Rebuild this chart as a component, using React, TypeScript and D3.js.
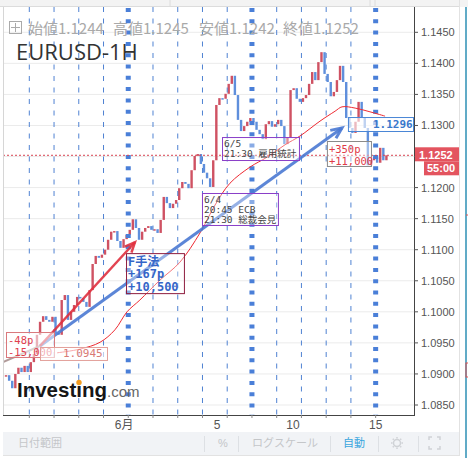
import React from 'react';
import * as d3 from 'd3';

// ---- data ----
const closes: number[] = [
  1.0898, 1.0889, 1.0877, 1.0900, 1.0910, 1.0903, 1.0913, 1.0903, 1.0919, 1.0932,
  1.0963, 1.0984, 1.0993, 1.0987, 1.0984, 1.0992, 1.0966, 1.0963, 1.1019, 1.1027,
  1.0987, 1.1000, 1.1011, 1.1024, 1.1022, 1.1016, 1.1008, 1.1035, 1.1077, 1.1090,
  1.1087, 1.1092, 1.1100, 1.1116, 1.1129, 1.1130, 1.1114, 1.1103, 1.1117, 1.1124,
  1.1132, 1.1149, 1.1135, 1.1116, 1.1129, 1.1135, 1.1138, 1.1132, 1.1133, 1.1127,
  1.1148, 1.1185, 1.1175, 1.1167, 1.1174, 1.1180, 1.1199, 1.1209, 1.1206, 1.1199,
  1.1228, 1.1251, 1.1254, 1.1238, 1.1224, 1.1215, 1.1201, 1.1244, 1.1333, 1.1344,
  1.1343, 1.1351, 1.1367, 1.1380, 1.1349, 1.1309, 1.1291, 1.1299, 1.1306, 1.1312,
  1.1306, 1.1293, 1.1286, 1.1278, 1.1302, 1.1307, 1.1298, 1.1302, 1.1309, 1.1299,
  1.1270, 1.1281, 1.1357, 1.1360, 1.1343, 1.1338, 1.1344, 1.1349, 1.1367, 1.1386,
  1.1373, 1.1402, 1.1418, 1.1383, 1.1370, 1.1347, 1.1354, 1.1373, 1.1396, 1.1370,
  1.1312, 1.1296, 1.1288, 1.1306, 1.1338, 1.1312, 1.1296, 1.1236, 1.1244, 1.1249,
  1.1240, 1.1264, 1.1244, 1.1252,
];
const BAR_START_DAY = -0.94;
const BARS_PER_DAY = 8;

const priceTicks = [1.085, 1.09, 1.095, 1.1, 1.105, 1.11, 1.115, 1.12, 1.125, 1.13, 1.135, 1.14, 1.145];
const hiddenTick = 1.125; // covered by the last-price label
const dayLines = [0, 1, 2, 3, 5, 6, 7, 8, 10, 11, 12, 13];
const weekLines = [4, 9, 14];
const dateLabels = ['6月', '5', '10', '15'];
const dateLabelDays = [3.83, 7.59, 10.66, 14.0];

const maDays = [1.12, 2.05, 2.86, 3.46, 3.95, 4.47, 5.28, 6.09, 6.9, 7.51, 8.11, 8.92, 9.61, 10.34, 10.94, 11.75, 12.36, 12.64, 13.17, 13.77, 14.38];
const maPrices = [1.0934, 1.094, 1.0951, 1.0971, 1.1, 1.1019, 1.1051, 1.108, 1.1127, 1.1172, 1.1207, 1.1233, 1.1249, 1.1269, 1.1283, 1.1307, 1.1323, 1.133, 1.1328, 1.1322, 1.1315];

const grayLine: [number, number][] = [[-1.06, 1.0919], [0.43, 1.0945]];
const redArrow: [number, number][] = [[0.43, 1.0945], [4.27, 1.1112]];
const blueArrow: [number, number][] = [[0.43, 1.0945], [12.64, 1.1296]];

const lastPrice = 1.1252;
const ohlc = { open: '1.1244', high: '1.1245', low: '1.1242', close: '1.1252' };
const countdown = '55:00';

type Note = { kind: string; d0: number; d1: number; pTop: number; pBot: number; lines: string[] };
const notes: Note[] = [
  { kind: 'loss', d0: -0.942, d1: 0.998, pTop: 1.09675, pBot: 1.09273, lines: ['-48p', '-15,000'] },
  { kind: 'level', d0: 0.432, d1: 3.14, pTop: 1.09434, pBot: 1.09225, lines: ['1.0945'] },
  { kind: 'gain', d0: 3.91, d1: 6.25, pTop: 1.10945, pBot: 1.10301, lines: ['F手法', '+167p', '+10,500'] },
  { kind: 'event', d0: 7.79, d1: 10.9, pTop: 1.12814, pBot: 1.12444, lines: ['6/5', '21:30 雇用統計'] },
  { kind: 'event', d0: 6.98, d1: 10.05, pTop: 1.11913, pBot: 1.11398, lines: ['6/4', '20:45 ECB', '21:30 総裁会見'] },
  { kind: 'blueLevel', d0: 12.88, d1: 15.51, pTop: 1.13136, pBot: 1.12911, lines: ['1.1296'] },
  { kind: 'profit', d0: 12.03, d1: 13.81, pTop: 1.1275, pBot: 1.12348, lines: ['+350p', '+11,000'] },
];

const toolbarItems = ['日付範囲', '%', 'ログスケール', '自動'];

const MONO = '"DejaVu Sans Mono", "Noto Sans CJK JP", monospace';
const SANS = '"Liberation Sans", Arial, "Noto Sans CJK JP", sans-serif';

function arrowHead(p0: [number, number], p1: [number, number], len: number, ang: number) {
  const a = Math.atan2(p1[1] - p0[1], p1[0] - p0[0]);
  const l = [p1[0] - len * Math.cos(a - ang), p1[1] - len * Math.sin(a - ang)];
  const r = [p1[0] - len * Math.cos(a + ang), p1[1] - len * Math.sin(a + ang)];
  return `M${l[0]},${l[1]}L${p1[0]},${p1[1]}L${r[0]},${r[1]}`;
}

export default function App() {
  const W = 468, H = 458;
  const L = 3, R = 414, T = 7, B = 415;
  const x = d3.scaleLinear().domain([-1.063, 15.55]).range([L, R]);
  const y = d3.scaleLinear().domain([1.085, 1.145]).range([405, 32.3]);

  const bars = closes.map((c, i) => ({
    t: BAR_START_DAY + i / BARS_PER_DAY,
    o: i === 0 ? c : closes[i - 1],
    c,
  }));

  const ma = d3.line<number>()
    .x((_, i) => x(maDays[i]))
    .y((d) => y(d))
    .curve(d3.curveCatmullRom)(maPrices) || '';

  const seg = (s: [number, number][]) => s.map(([d, p]) => [x(d), y(p)] as [number, number]);
  const gray = seg(grayLine);
  const red = seg(redArrow);
  const blue = seg(blueArrow);

  const noteStyle: Record<string, any> = {
    loss: { stroke: '#d9787c', fill: 'rgba(255,255,255,0.55)', color: '#e0404e', size: 10.5, weight: 400, offs: [11.5, 23.5], pad: 2 },
    level: { stroke: '#e3a09a', fill: 'rgba(255,255,255,0.6)', color: '#d97a74', size: 11, weight: 400, offs: [10.5], pad: 23 },
    gain: { stroke: '#8e1d3e', fill: 'rgba(255,255,255,0.35)', color: '#3566c8', size: 12, weight: 700, offs: [12.5, 25, 37.5], pad: 2 },
    event: { stroke: '#8a3fc8', fill: 'rgba(255,255,255,0.35)', color: '#444', size: 9.5, weight: 400, offs: [10, 20, 30], pad: 2 },
    blueLevel: { stroke: '#4a86d6', fill: 'rgba(255,255,255,0.6)', color: '#3a78cc', size: 11, weight: 700, offs: [11], pad: 25 },
    profit: { stroke: '#8a8a8a', fill: 'rgba(255,255,255,0.4)', color: '#e03a48', size: 10.5, weight: 400, offs: [11.5, 23.5], pad: 2 },
  };

  const toolbarX = [18, 218, 252, 343];
  const sepX = [204, 238, 330, 378, 418];

  return (
    <svg width={W} height={H} viewBox={`0 0 ${W} ${H}`}
      style={{ position: 'absolute', left: 0, top: 0, background: '#fff' }}>
      <defs>
        <clipPath id="plot"><rect x={L} y={T} width={R - L} height={B - T} /></clipPath>
      </defs>
      {/* top strip */}
      <rect x={0} y={0} width={W} height={T} fill="#f3f3f3" />
      <line x1={0} x2={460} y1={T - 0.5} y2={T - 0.5} stroke="#dcdcdc" />
      <line x1={170} x2={170} y1={0} y2={T} stroke="#dcdcdc" />
      <line x1={370} x2={370} y1={0} y2={T} stroke="#dcdcdc" />
      <line x1={375} x2={375} y1={0} y2={T} stroke="#dcdcdc" />

      {/* horizontal grid */}
      {priceTicks.map((p) => (
        <line key={p} x1={L} x2={R} y1={y(p)} y2={y(p)} stroke="#ebebeb" strokeWidth={1} />
      ))}

      <g clipPath="url(#plot)">
        {/* candles */}
        {bars.map((b, i) => {
          const top = y(Math.max(b.o, b.c));
          const h = Math.max(1.5, Math.abs(y(b.o) - y(b.c)));
          return (
            <rect key={i} x={x(b.t) - 1.2} y={top} width={2.4} height={h}
              fill={b.c >= b.o ? '#cf5263' : '#5f8fdc'} />
          );
        })}

        {/* day lines */}
        {dayLines.map((d) => (
          <line key={d} x1={x(d)} x2={x(d)} y1={T} y2={B} stroke="#4f82d2" strokeWidth={1} strokeDasharray="5 6.5" />
        ))}
        {weekLines.map((d) => (
          <line key={d} x1={x(d)} x2={x(d)} y1={T + 1} y2={B} stroke="#4a7fd8" strokeWidth={5} strokeDasharray="4 7.3" />
        ))}

        {/* last price line */}
        <line x1={L} x2={R} y1={y(lastPrice)} y2={y(lastPrice)} stroke="#d84452" strokeWidth={1} strokeDasharray="2 2" />

        {/* moving average */}
        <path d={ma} fill="none" stroke="#ee2a32" strokeWidth={1} />

        {/* trend lines */}
        <line x1={gray[0][0]} y1={gray[0][1]} x2={gray[1][0]} y2={gray[1][1]} stroke="#a38a88" strokeWidth={2} strokeOpacity={0.85} />
        <line x1={blue[0][0]} y1={blue[0][1]} x2={blue[1][0]} y2={blue[1][1]} stroke="#4a79d3" strokeWidth={3} strokeOpacity={0.9} />
        <path d={arrowHead(blue[0], blue[1], 12, 0.42)} fill="none" stroke="#4a79d3" strokeWidth={3} strokeOpacity={0.9} />
        <line x1={red[0][0]} y1={red[0][1]} x2={red[1][0]} y2={red[1][1]} stroke="#e0303e" strokeWidth={2.5} strokeOpacity={0.9} />
        <path d={arrowHead(red[0], red[1], 11, 0.42)} fill="none" stroke="#e0303e" strokeWidth={2.5} strokeOpacity={0.9} />

        {/* annotation boxes */}
        {notes.map((n, i) => {
          const s = noteStyle[n.kind];
          const x0 = x(n.d0), x1 = x(n.d1), y0 = y(n.pTop), y1 = y(n.pBot);
          return (
            <g key={i}>
              <rect x={x0 + 0.5} y={y0 + 0.5} width={x1 - x0} height={y1 - y0} fill={s.fill} stroke={s.stroke} strokeWidth={1} />
              {n.lines.map((t, j) => (
                <text key={j} x={x0 + s.pad} y={y0 + s.offs[j]} fontFamily={MONO} fontSize={s.size}
                  fontWeight={s.weight} fill={s.color}>{t}</text>
              ))}
            </g>
          );
        })}
      </g>

      {/* plot frame */}
      <line x1={L + 0.5} x2={L + 0.5} y1={T} y2={B} stroke="#d6d6d6" />
      <line x1={L} x2={R} y1={B + 0.5} y2={B + 0.5} stroke="#444" />
      <line x1={R + 0.5} x2={R + 0.5} y1={T} y2={B + 1} stroke="#444" />

      {/* right axis */}
      {priceTicks.map((p) => (
        <g key={p}>
          <line x1={R} x2={R + 4} y1={y(p)} y2={y(p)} stroke="#555" />
          {p !== hiddenTick && (
            <text x={421} y={y(p)} dy="0.36em" fontFamily={SANS} fontSize={11} fill="#555">{p.toFixed(4)}</text>
          )}
        </g>
      ))}
      <rect x={415} y={y(lastPrice) - 8} width={44} height={14} fill="#e3545f" />
      <text x={419} y={y(lastPrice) + 3.5} fontFamily={SANS} fontSize={11} fontWeight={700} fill="#fff">{lastPrice.toFixed(4)}</text>
      <rect x={424} y={y(lastPrice) + 6} width={35} height={14} fill="#e3545f" />
      <text x={427} y={y(lastPrice) + 17} fontFamily={SANS} fontSize={11} fontWeight={700} fill="#fff">{countdown}</text>

      {/* bottom axis */}
      {dayLines.concat(weekLines).map((d) => (
        <line key={'t' + d} x1={x(d)} x2={x(d)} y1={B} y2={B + 3} stroke="#888" />
      ))}
      {dateLabels.map((t, i) => (
        <text key={t} x={x(dateLabelDays[i])} y={429} textAnchor="middle" fontFamily={SANS} fontSize={12} fill="#555">{t}</text>
      ))}

      {/* header */}
      <rect x={9.5} y={21.5} width={12} height={12} fill="none" stroke="#aaa" />
      <line x1={15.5} x2={15.5} y1={23} y2={32} stroke="#aaa" />
      <line x1={11} x2={20} y1={27.5} y2={27.5} stroke="#aaa" />
      <g fontFamily='"Noto Sans CJK JP", sans-serif' fontSize={15} fill="#a9a9a9">
        <text x={28} y={34}>始値{ohlc.open}</text>
        <text x={113} y={34}>高値{ohlc.high}</text>
        <text x={199} y={34}>安値{ohlc.low}</text>
        <text x={283} y={34}>終値{ohlc.close}</text>
      </g>
      <text x={16} y={60} fontFamily='"Open Sans", sans-serif' fontSize={22} fill="#333">EURUSD-1H</text>

      {/* logo */}
      <text x={17} y={397} fontFamily={SANS} fontSize={20.5} fontWeight={700} fill="#161616">Investing</text>
      <circle cx={79} cy={382.5} r={2.7} fill="#f39c1f" />
      <text x={107} y={397} fontFamily={SANS} fontSize={15} fill="#666">.com</text>

      {/* toolbar */}
      <rect x={L} y={432} width={457} height={23} fill="#f1f3f6" />
      {sepX.map((s) => (
        <line key={s} x1={s + 0.5} x2={s + 0.5} y1={436} y2={452} stroke="#dde0e4" />
      ))}
      {toolbarItems.map((t, i) => (
        <text key={t} x={toolbarX[i]} y={447} fontFamily={SANS} fontSize={11}
          fill={i === 3 ? '#3aa6de' : '#c4c6c9'}>{t}</text>
      ))}
      <g stroke="#cfd2d6" fill="none" strokeWidth={1.5}>
        <circle cx={397} cy={443} r={3.5} />
        {[0, 45, 90, 135, 180, 225, 270, 315].map((a) => {
          const r = (a * Math.PI) / 180;
          return <line key={a} x1={397 + 4.5 * Math.cos(r)} y1={443 + 4.5 * Math.sin(r)} x2={397 + 6 * Math.cos(r)} y2={443 + 6 * Math.sin(r)} />;
        })}
        <path d="M429,440 l0,-3 l3,0 M437,437 l3,0 l0,3 M440,446 l0,3 l-3,0 M432,449 l-3,0 l0,-3" />
      </g>

      {/* container edges */}
      <line x1={459.5} x2={459.5} y1={0} y2={456} stroke="#e2e2e2" />
      <line x1={L} x2={460} y1={455.5} y2={455.5} stroke="#e2e2e2" />
      <line x1={466} x2={466} y1={7} y2={458} stroke="#2c8fb5" strokeWidth={1.5} />
      <line x1={466} x2={468} y1={215} y2={215} stroke="#e05050" />
      <rect x={466} y={363} width={3} height={14} fill="none" stroke="#e05050" />
    </svg>
  );
}
